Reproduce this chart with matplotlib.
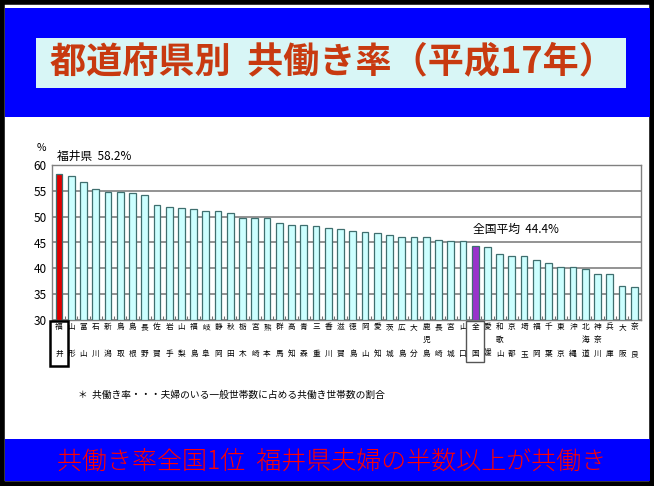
import matplotlib
matplotlib.use("Agg")
import matplotlib.pyplot as plt
from matplotlib.patches import Rectangle
from matplotlib.transforms import blended_transform_factory

plt.rcParams['font.family'] = ['Noto Sans CJK JP', 'DejaVu Sans']

prefectures = ["福井", "山形", "富山", "石川", "新潟", "鳥取", "島根", "長野", "佐賀", "岩手",
               "山梨", "福島", "岐阜", "静岡", "秋田", "栃木", "宮崎", "熊本", "群馬", "高知",
               "青森", "三重", "香川", "滋賀", "徳島", "岡山", "愛知", "茨城", "広島", "大分",
               "鹿児島", "長崎", "宮城", "山口", "全国", "愛媛", "和歌山", "京都", "埼玉", "福岡",
               "千葉", "東京", "沖縄", "北海道", "神奈川", "兵庫", "大阪", "奈良"]
rates = [58.2, 57.9, 56.7, 55.3, 54.8, 54.8, 54.5, 54.2, 52.3, 51.9,
         51.6, 51.5, 51.0, 51.0, 50.8, 49.8, 49.8, 49.8, 48.7, 48.4,
         48.3, 48.1, 47.8, 47.6, 47.2, 47.0, 46.8, 46.5, 46.0, 46.0,
         46.0, 45.4, 45.2, 45.2, 44.4, 44.2, 42.7, 42.4, 42.4, 41.6,
         41.1, 40.3, 40.2, 39.8, 39.0, 39.0, 36.5, 36.3]
yticks = [30, 35, 40, 45, 50, 55, 60]

title = "都道府県別  共働き率（平成17年）"
note = "＊  共働き率・・・夫婦のいる一般世帯数に占める共働き世帯数の割合"
bottom_msg = "共働き率全国1位  福井県夫婦の半数以上が共働き"

W, H = 654, 486
fig = plt.figure(figsize=(W / 100, H / 100), dpi=100)
fig.patch.set_facecolor("white")

def fx(px):
    return px / W

def fy(py):
    return 1 - py / H

# outer black frame
fig.patches.append(Rectangle((fx(2), fy(484)), fx(650), 482 / H, transform=fig.transFigure,
                             facecolor="none", edgecolor="black", lw=4, zorder=0))
# top blue band
fig.patches.append(Rectangle((fx(5), fy(117)), fx(645), 109 / H, transform=fig.transFigure,
                             facecolor="#0000FF", edgecolor="none", zorder=1))
# title box
fig.patches.append(Rectangle((fx(36), fy(88)), fx(590), 50 / H, transform=fig.transFigure,
                             facecolor="#D8F6F6", edgecolor="none", zorder=2))
fig.text(fx(332), fy(62), title, ha="center", va="center", fontsize=26,
         fontweight="bold", color="#C83A10", zorder=3)
# bottom blue band
fig.patches.append(Rectangle((fx(5), fy(481)), fx(645), 42 / H, transform=fig.transFigure,
                             facecolor="#0000FF", edgecolor="none", zorder=1))
fig.text(fx(332), fy(461), bottom_msg, ha="center", va="center", fontsize=18,
         fontweight="light", color="#FF0000", zorder=3)

# footnote
fig.text(fx(78), fy(395), note, ha="left", va="center", fontsize=7, color="black")

# chart axes
ax = fig.add_axes([fx(52), fy(320), fx(641) - fx(52), (320 - 165) / H])
x = list(range(len(prefectures)))
colors = []
for name in prefectures:
    if name == "福井":
        colors.append("#E00000")
    elif name == "全国":
        colors.append("#9933CC")
    else:
        colors.append("#CCFFFF")
ax.bar(x, [r - 30 for r in rates], bottom=30, width=0.55, color=colors,
       edgecolor="#3F6F6F", linewidth=0.9, zorder=3)
ax.set_ylim(30, 60)
ax.set_xlim(-0.57, len(prefectures) - 0.45)
ax.set_yticks(yticks)
ax.tick_params(axis="y", labelsize=8.5, length=0, pad=4)
ax.set_xticks([i + 0.5 for i in range(len(prefectures) - 1)])
ax.set_xticklabels([])
ax.tick_params(axis="x", length=3, color="#707070", direction="in")
ax.grid(axis="y", color="#808080", lw=1.2, zorder=1)
for s in ax.spines.values():
    s.set_color("#808080")
    s.set_linewidth(1.0)
ax.set_facecolor("white")

# % label
fig.text(fx(37), fy(148), "%", ha="left", va="center", fontsize=7.5)

# annotations
i_f = prefectures.index("福井")
i_n = prefectures.index("全国")
ax.text(i_f - 0.2, 61.6, f"福井県  {rates[i_f]}%", fontsize=8.5, ha="left", va="center", clip_on=False)
ax.text(i_n - 0.2, 47.5, f"全国平均  {rates[i_n]}%", fontsize=8.5, ha="left", va="center",
        bbox=dict(facecolor="white", edgecolor="none", pad=1), zorder=4)

# vertical x labels
trans = blended_transform_factory(ax.transData, fig.transFigure)
for i, name in enumerate(prefectures):
    chars = list(name)
    if len(chars) == 2:
        ys = [327, 354]
    else:
        ys = [327, 340, 354]
    for ch, yy in zip(chars, ys):
        ax.text(i, fy(yy), ch, transform=trans, ha="center", va="center", fontsize=5.5,
                clip_on=False)

# boxes around 福井 and 全国 labels
def box(i, lw, color, y0, y1):
    left = ax.transData.transform((i - 0.75, 0))[0]
    right = ax.transData.transform((i + 0.75, 0))[0]
    fig.patches.append(Rectangle((left / W, fy(y1)), (right - left) / W, (y1 - y0) / H,
                                 transform=fig.transFigure, facecolor="none",
                                 edgecolor=color, lw=lw, zorder=5))

box(i_f, 1.8, "black", 321, 366)
box(i_n, 1.0, "#555555", 321, 362)

fig.savefig("out.png", dpi=100)
